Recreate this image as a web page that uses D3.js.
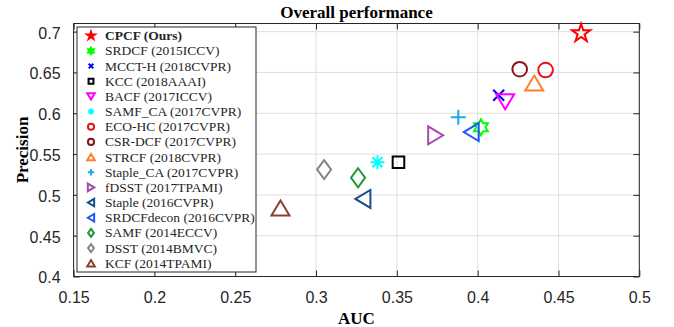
<!DOCTYPE html>
<html lang="en">
<head>
  <meta charset="UTF-8">
  <title>Overall performance</title>
  <script src="https://cdn.jsdelivr.net/npm/d3@7/dist/d3.min.js"></script>
  <style>
  body { margin: 0; background: #fff; }
  .titulo, .etiqueta { font-family: 'Liberation Serif', 'Times New Roman', serif; font-weight: bold; font-size: 17px; fill: #000; }
  .tickTexto { font-family: 'Liberation Sans', Arial, sans-serif; font-size: 16px; fill: #262626; }
  .leyendaTexto { font-family: 'Liberation Serif', 'Times New Roman', serif; font-size: 13.5px; fill: #262626; }
  </style>
</head>
<body>
<div id="grafico"></div>
<script>
  var trackers = ["CPCF (Ours)", "SRDCF (2015ICCV)", "MCCT-H (2018CVPR)", "KCC (2018AAAI)", "BACF (2017ICCV)",
    "SAMF_CA (2017CVPR)", "ECO-HC (2017CVPR)", "CSR-DCF (2017CVPR)", "STRCF (2018CVPR)", "Staple_CA (2017CVPR)",
    "fDSST (2017TPAMI)", "Staple (2016CVPR)", "SRDCFdecon (2016CVPR)", "SAMF (2014ECCV)", "DSST (2014BMVC)", "KCF (2014TPAMI)"];
  var auc       = [0.464, 0.402, 0.413, 0.351, 0.417, 0.338, 0.442, 0.426, 0.435, 0.388, 0.374, 0.329, 0.396, 0.326, 0.305, 0.278];
  var precision = [0.698, 0.583, 0.622, 0.540, 0.614, 0.540, 0.653, 0.654, 0.637, 0.595, 0.573, 0.495, 0.577, 0.521, 0.531, 0.484];
  var marcadores = ["pentagram", "hexagram", "x", "square", "v", "asterisk", "o", "o", "^", "+", ">", "<", "<", "diamond", "diamond", "^"];
  var colores = ["#ff0000", "#00ff00", "#0000ff", "#000000", "#ff00ff", "#00ffff", "#e8121c", "#8b0f1f", "#ff7f2a", "#1ea8e8",
    "#a44cab", "#194f8a", "#1f55ff", "#1f9632", "#858585", "#8b4030"];
  var xTicks = [0.15, 0.2, 0.25, 0.3, 0.35, 0.4, 0.45, 0.5];
  var yTicks = [0.4, 0.45, 0.5, 0.55, 0.6, 0.65, 0.7];

  var w = 674, h = 327;
  var izq = 73.6, der = 639.3, arriba = 23.5, abajo = 276.5;

  var svg = d3.select("#grafico").append("svg").attr("width", w).attr("height", h);

  var xScale = d3.scaleLinear().domain([0.15, 0.5]).range([izq, der]);
  var yScale = d3.scaleLinear().domain([0.4, 0.71]).range([abajo, arriba]);

  // forma de cada marcador (r = medio ancho)
  function forma(tipo, k) {
    var p = d3.path(), i, a, r;
    if (tipo == "pentagram" || tipo == "hexagram") {
      var n = tipo == "pentagram" ? 5 : 6;
      r = (tipo == "pentagram" ? 9.5 : 8) * k;
      var ri = r * (n == 5 ? 0.382 : 0.577);
      for (i = 0; i < 2 * n; i++) {
        a = -Math.PI / 2 + i * Math.PI / n;
        var rr = i % 2 ? ri : r;
        if (i == 0) p.moveTo(rr * Math.cos(a), rr * Math.sin(a)); else p.lineTo(rr * Math.cos(a), rr * Math.sin(a));
      }
      p.closePath();
    } else if (tipo == "o") {
      p.arc(0, 0, 7.3 * k, 0, 2 * Math.PI);
    } else if (tipo == "square") {
      r = 5.8 * k; p.rect(-r, -r, 2 * r, 2 * r);
    } else if (tipo == "diamond") {
      p.moveTo(0, -9.5 * k); p.lineTo(7 * k, 0); p.lineTo(0, 9.5 * k); p.lineTo(-7 * k, 0); p.closePath();
    } else if (tipo == "^" || tipo == "v") {
      var s = tipo == "^" ? 1 : -1;
      p.moveTo(0, -7.5 * k * s); p.lineTo(9 * k, 7.5 * k * s); p.lineTo(-9 * k, 7.5 * k * s); p.closePath();
    } else if (tipo == "<" || tipo == ">") {
      var t = tipo == "<" ? 1 : -1;
      p.moveTo(-7.5 * k * t, 0); p.lineTo(7.5 * k * t, -9 * k); p.lineTo(7.5 * k * t, 9 * k); p.closePath();
    } else if (tipo == "+") {
      r = 7.5 * k; p.moveTo(-r, 0); p.lineTo(r, 0); p.moveTo(0, -r); p.lineTo(0, r);
    } else if (tipo == "x") {
      r = 5.5 * k; p.moveTo(-r, -r); p.lineTo(r, r); p.moveTo(-r, r); p.lineTo(r, -r);
    } else if (tipo == "asterisk") {
      r = 7 * k;
      for (i = 0; i < 4; i++) {
        a = i * Math.PI / 4;
        p.moveTo(-r * Math.cos(a), -r * Math.sin(a)); p.lineTo(r * Math.cos(a), r * Math.sin(a));
      }
    }
    return p.toString();
  }

  // rejilla
  svg.append("g").selectAll("line.gx").data(xTicks).enter().append("line")
    .attr("x1", function(d){ return xScale(d); }).attr("x2", function(d){ return xScale(d); })
    .attr("y1", arriba).attr("y2", abajo)
    .attr("stroke", "#dfdfdf").attr("stroke-width", 1);
  svg.append("g").selectAll("line.gy").data(yTicks).enter().append("line")
    .attr("y1", function(d){ return yScale(d); }).attr("y2", function(d){ return yScale(d); })
    .attr("x1", izq).attr("x2", der)
    .attr("stroke", "#dfdfdf").attr("stroke-width", 1);

  // ejes (ticks hacia dentro en los cuatro lados)
  var ejeAbajo = svg.append("g").attr("transform", "translate(0," + abajo + ")")
    .call(d3.axisBottom(xScale).tickValues(xTicks).tickSizeInner(-6).tickSizeOuter(0).tickPadding(14).tickFormat(d3.format("")));
  var ejeArriba = svg.append("g").attr("transform", "translate(0," + arriba + ")")
    .call(d3.axisTop(xScale).tickValues(xTicks).tickSizeInner(-6).tickSizeOuter(0).tickFormat(""));
  var ejeIzq = svg.append("g").attr("transform", "translate(" + izq + ",0)")
    .call(d3.axisLeft(yScale).tickValues(yTicks).tickSizeInner(-6).tickSizeOuter(0).tickPadding(13).tickFormat(d3.format("")));
  var ejeDer = svg.append("g").attr("transform", "translate(" + der + ",0)")
    .call(d3.axisRight(yScale).tickValues(yTicks).tickSizeInner(-6).tickSizeOuter(0).tickFormat(""));
  [ejeAbajo, ejeArriba, ejeIzq, ejeDer].forEach(function(e){
    e.select(".domain").remove();
    e.selectAll("line").attr("stroke", "#262626");
    e.selectAll("text").attr("class", "tickTexto").attr("font-family", null).attr("font-size", null).attr("fill", null);
  });
  ejeIzq.selectAll("text").attr("dy", "0.4em");
  ejeAbajo.selectAll("text").attr("dy", "0.75em");

  svg.append("rect").attr("x", izq).attr("y", arriba).attr("width", der - izq).attr("height", abajo - arriba)
    .attr("fill", "none").attr("stroke", "#262626").attr("stroke-width", 1);

  // puntos
  svg.append("g").selectAll("path").data(trackers).enter().append("path")
    .attr("d", function(d, i){ return forma(marcadores[i], 1); })
    .attr("transform", function(d, i){ return "translate(" + xScale(auc[i]) + "," + yScale(precision[i]) + ")"; })
    .attr("fill", "none")
    .attr("stroke", function(d, i){ return colores[i]; })
    .attr("stroke-width", 2);

  // titulo y etiquetas
  svg.append("text").attr("class", "titulo").attr("x", (izq + der) / 2).attr("y", 18)
    .attr("text-anchor", "middle").text("Overall performance");
  svg.append("text").attr("class", "etiqueta").attr("x", (izq + der) / 2).attr("y", 324)
    .attr("text-anchor", "middle").text("AUC");
  svg.append("text").attr("class", "etiqueta").attr("text-anchor", "middle")
    .attr("transform", "translate(28," + ((arriba + abajo) / 2) + ") rotate(-90)").text("Precision");

  // leyenda
  var leyX = 77, leyY = 27, leyW = 179, leyH = 245, paso = 15.17;
  var leyenda = svg.append("g");
  leyenda.append("rect").attr("x", leyX).attr("y", leyY).attr("width", leyW).attr("height", leyH)
    .attr("fill", "#fff").attr("stroke", "#262626").attr("stroke-width", 1);
  var filas = leyenda.selectAll("g.fila").data(trackers).enter().append("g")
    .attr("transform", function(d, i){ return "translate(0," + (leyY + 8.7 + i * paso) + ")"; });
  filas.append("path")
    .attr("d", function(d, i){ return forma(marcadores[i], 0.42); })
    .attr("transform", "translate(91,0)")
    .attr("fill", function(d, i){ return (marcadores[i] == "pentagram" || marcadores[i] == "hexagram") ? colores[i] : "none"; })
    .attr("stroke", function(d, i){ return colores[i]; })
    .attr("stroke-width", 2);
  filas.append("text").attr("class", "leyendaTexto").attr("x", 105).attr("dy", "0.33em")
    .style("font-weight", function(d, i){ return i == 0 ? "bold" : "normal"; })
    .text(function(d){ return d; });
</script>
</body>
</html>
